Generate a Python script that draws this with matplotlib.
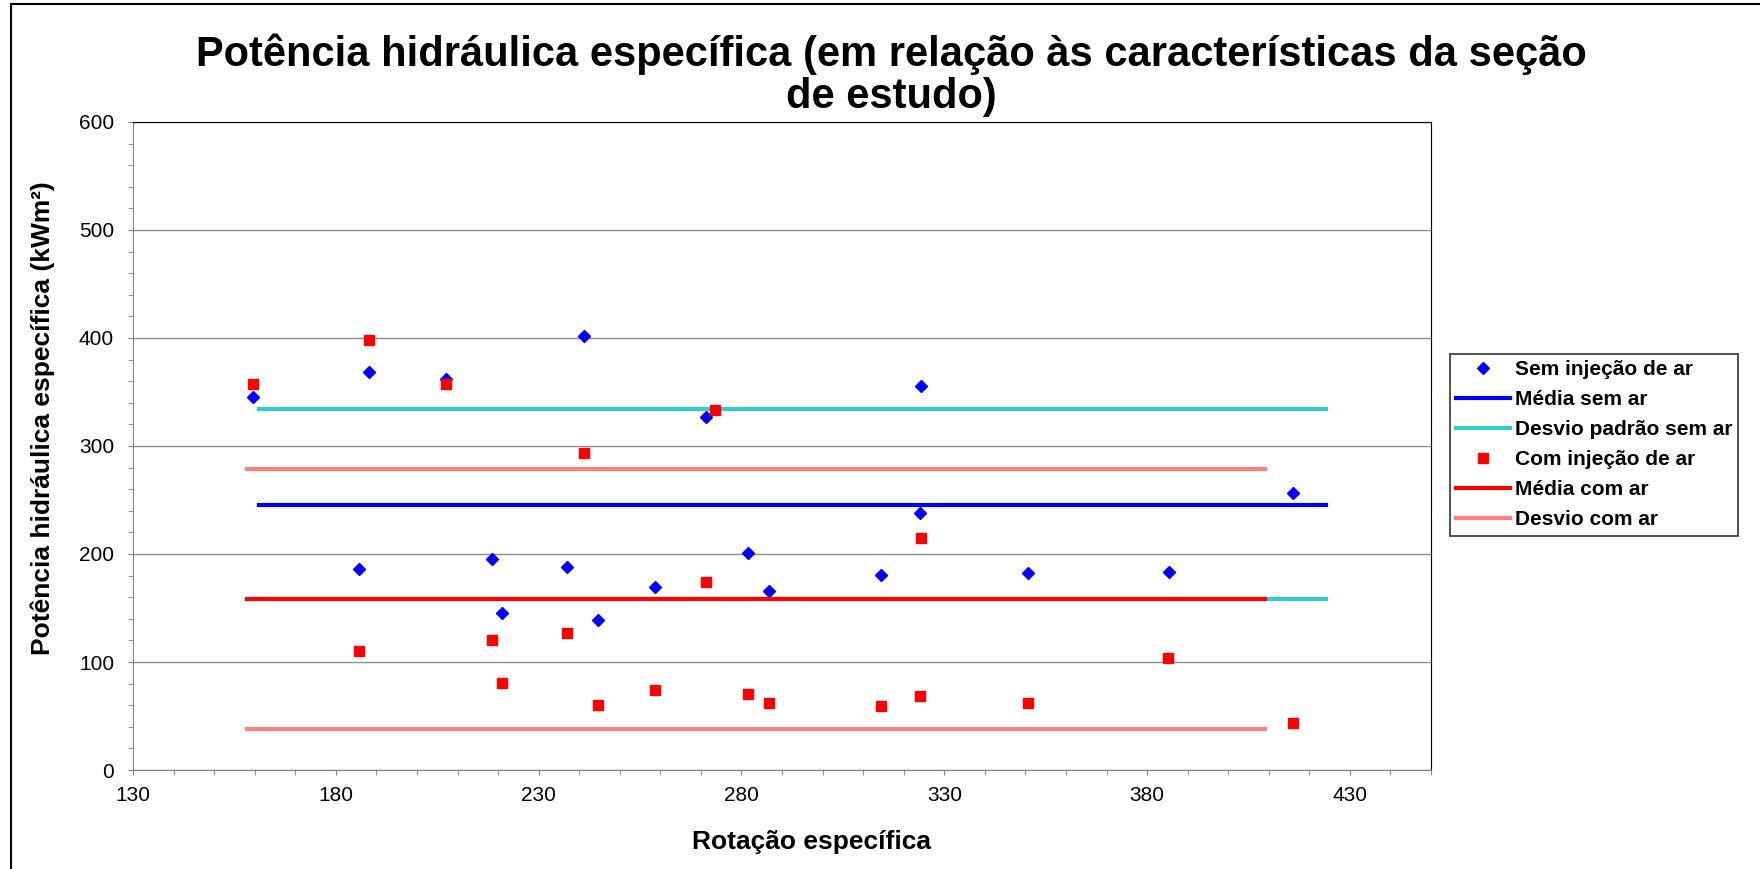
import matplotlib
matplotlib.use("Agg")
import matplotlib.pyplot as plt
from matplotlib.ticker import MultipleLocator
from matplotlib.patches import Rectangle

plt.rcParams['font.family'] = ['Liberation Sans', 'DejaVu Sans']

# Sem injeção de ar
sem_x = [159.7, 188.1, 207.2, 241.1, 271.3, 185.7, 218.5, 221.0, 236.9, 244.7,
         258.6, 324.2, 324.0, 281.7, 286.8, 314.4, 350.7, 385.3, 416.1]
sem_y = [345.5, 368.4, 361.9, 401.8, 327.2, 185.9, 195.2, 145.7, 188.1, 139.2,
         169.2, 355.7, 238.2, 200.7, 165.8, 180.3, 182.8, 183.1, 256.1]

# Com injeção de ar
com_x = [159.7, 188.1, 207.2, 273.5, 241.1, 185.7, 218.5, 221.0, 236.9, 244.6,
         258.6, 271.3, 324.2, 281.7, 286.8, 314.4, 324.0, 350.6, 385.2, 416.0]
com_y = [357.3, 398.4, 357.0, 333.1, 293.5, 110.1, 120.0, 80.7, 126.8, 60.0,
         73.9, 174.2, 214.7, 70.5, 62.2, 59.7, 68.7, 62.5, 103.3, 43.3]

# linhas de média e desvio
sem_lx = [161.0, 424.0]
media_sem = 245.8
desvio_sem = [334.3, 158.5]
com_lx = [158.0, 409.0]
media_com = 158.4
desvio_com = [279.1, 37.8]

W, H = 1760, 869
fig = plt.figure(figsize=(W / 100, H / 100), dpi=100)
ax = fig.add_axes([133 / W, 1 - 770 / H, (1431 - 133) / W, (770 - 122) / H])

ax.plot(sem_x, sem_y, 'D', color='#0000FF', ms=6.5, ls='none',
        label='Sem injeção de ar', zorder=3)
ax.plot(sem_lx, [media_sem, media_sem], color='#0000FF', lw=3,
        label='Média sem ar', zorder=3)
ax.plot(sem_lx, [desvio_sem[0]] * 2, color='#33CCCC', lw=3,
        label='Desvio padrão sem ar', zorder=3)
ax.plot(sem_lx, [desvio_sem[1]] * 2, color='#33CCCC', lw=3, zorder=3)
ax.plot(com_x, com_y, 's', color='#FF0000', ms=6.5, ls='none',
        label='Com injeção de ar', zorder=4)
ax.plot(com_lx, [media_com, media_com], color='#FF0000', lw=3,
        label='Média com ar', zorder=4)
ax.plot(com_lx, [desvio_com[0]] * 2, color='#FF8080', lw=3,
        label='Desvio com ar', zorder=4)
ax.plot(com_lx, [desvio_com[1]] * 2, color='#FF8080', lw=3, zorder=4)

ax.set_xlim(130, 450)
ax.set_ylim(0, 600)
ax.xaxis.set_major_locator(MultipleLocator(50))
ax.xaxis.set_minor_locator(MultipleLocator(10))
ax.yaxis.set_major_locator(MultipleLocator(100))
ax.yaxis.set_minor_locator(MultipleLocator(20))
ax.set_xticks([130, 180, 230, 280, 330, 380, 430])
ax.grid(axis='y', which='major', color='#8c8c8c', lw=1)
ax.set_axisbelow(True)
ax.tick_params(which='both', direction='out', length=3.6, color='#808080',
               labelsize=15)
ax.tick_params(axis='x', pad=8)
ax.tick_params(axis='y', pad=10)
for s in ['top', 'right']:
    ax.spines[s].set_color('black')
for s in ['left', 'bottom']:
    ax.spines[s].set_color('#808080')

fig.text(891 / W, 1 - 75 / H,
         'Potência hidráulica específica (em relação às características da seção\nde estudo)',
         ha='center', va='center', fontsize=30, fontweight='bold', linespacing=1.05)
fig.text(43 / W, 1 - 418 / H, 'Potência hidráulica específica (kWm²)',
         rotation=90, ha='center', va='center', fontsize=19, fontweight='bold')
fig.text(811 / W, 1 - 842 / H, 'Rotação específica',
         ha='center', va='center', fontsize=19, fontweight='bold')

leg = fig.legend(loc='upper left', bbox_to_anchor=(1450 / W, 1 - 354 / H),
                 prop={'weight': 'bold', 'size': 15}, borderaxespad=0,
                 frameon=True, fancybox=False, handlelength=2.6,
                 labelspacing=0.53, borderpad=0.3, handletextpad=0.2)
leg.get_frame().set_edgecolor('black')
leg.get_frame().set_linewidth(1.2)

fig.patches.append(Rectangle((11 / W, -0.01), 1.0, 1 - 4 / H + 0.01,
                             transform=fig.transFigure, fill=False,
                             edgecolor='black', lw=1.5))

fig.savefig('out.png', dpi=100)
